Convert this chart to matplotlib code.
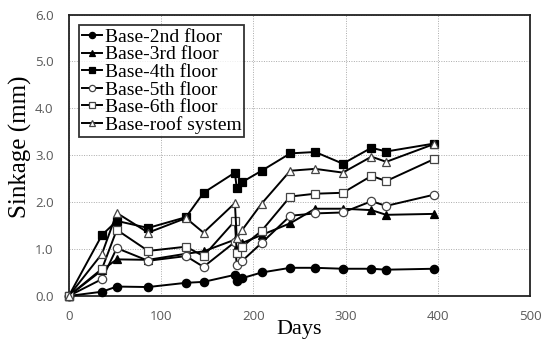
import matplotlib
matplotlib.use('Agg')
import matplotlib.pyplot as plt

# days since base reading
days = [0, 36, 52, 86, 127, 146, 180, 182, 188, 209, 240, 267, 297, 328, 344, 396]

# sinkage (mm) relative to base
floor2 = [0, 0.09, 0.20, 0.19, 0.28, 0.30, 0.45, 0.32, 0.38, 0.50, 0.60, 0.60, 0.58, 0.58, 0.56, 0.58]
floor3 = [0, 0.55, 0.78, 0.77, 0.90, 0.95, 1.20, 1.05, 1.13, 1.30, 1.55, 1.86, 1.86, 1.83, 1.73, 1.75]
floor4 = [0, 1.30, 1.60, 1.45, 1.68, 2.20, 2.63, 2.30, 2.43, 2.67, 3.04, 3.07, 2.82, 3.16, 3.08, 3.25]
floor5 = [0, 0.36, 1.02, 0.75, 0.85, 0.62, 1.15, 0.66, 0.75, 1.13, 1.71, 1.76, 1.78, 2.02, 1.92, 2.16]
floor6 = [0, 0.58, 1.41, 0.96, 1.05, 0.85, 1.60, 0.92, 1.05, 1.39, 2.12, 2.18, 2.20, 2.56, 2.45, 2.92]
roof = [0, 0.90, 1.77, 1.35, 1.66, 1.35, 1.98, 1.24, 1.41, 1.97, 2.67, 2.71, 2.63, 2.97, 2.86, 3.24]

labels = ['Base-2nd floor', 'Base-3rd floor', 'Base-4th floor',
          'Base-5th floor', 'Base-6th floor', 'Base-roof system']
x_ticks = [0, 100, 200, 300, 400, 500]
y_ticks = [0, 1, 2, 3, 4, 5, 6]

fig = plt.figure(figsize=(5.46, 3.39), dpi=100)
ax = fig.add_axes([0.126, 0.127, 0.845, 0.83])

series = [floor2, floor3, floor4, floor5, floor6, roof]
markers = ['o', '^', 's', 'o', 's', '^']
fills = ['black', 'black', 'black', 'white', 'white', 'white']
for y, lab, m, fc in zip(series, labels, markers, fills):
    ax.plot(days, y, color='black', lw=1.4, marker=m, markersize=6,
            markerfacecolor=fc, markeredgecolor='black' if fc == 'black' else '#444444',
            markeredgewidth=0.9, label=lab, clip_on=False, zorder=3)

ax.set_xlim(0, 500)
ax.set_ylim(0, 6)
ax.set_xticks(x_ticks)
ax.set_yticks(y_ticks)
ax.set_yticklabels(['%.1f' % v for v in y_ticks])
ax.tick_params(length=0, labelsize=9.5, labelcolor='#595959')
ax.tick_params(axis='y', pad=11)
ax.tick_params(axis='x', pad=10)
for lab in ax.get_xticklabels() + ax.get_yticklabels():
    lab.set_family('Open Sans')
ax.grid(True, color='#aaaaaa', linestyle=(0, (1, 1.5)), linewidth=0.7)
ax.set_axisbelow(True)
for s in ax.spines.values():
    s.set_linewidth(1.3)
    s.set_color('#222222')

ax.set_xlabel('Days', family='Liberation Serif', fontsize=16)
ax.xaxis.set_label_coords(0.5, -0.085)
ax.set_ylabel('Sinkage (mm)', family='Liberation Serif', fontsize=18)
ax.yaxis.set_label_coords(-0.08, 0.53)

leg = ax.legend(loc='upper left', bbox_to_anchor=(0.0, 1.0), prop={'family': 'Liberation Serif', 'size': 14},
                frameon=True, fancybox=False, edgecolor='black', handlelength=1.0,
                handletextpad=0.15, borderpad=0.15, labelspacing=0.0, borderaxespad=0.55,
                markerscale=0.75)
leg.get_frame().set_linewidth(1.3)

fig.savefig('out.png', dpi=100)
